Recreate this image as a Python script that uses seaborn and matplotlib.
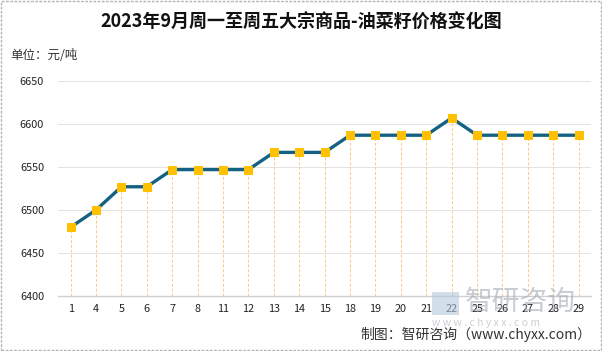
import numpy as np
import pandas as pd
import matplotlib
matplotlib.use("Agg")
import matplotlib.pyplot as plt
import seaborn as sns
from matplotlib.patches import Rectangle

# ==========================================
# Data
# ==========================================
days = ["1", "4", "5", "6", "7", "8", "11", "12", "13", "14", "15",
        "18", "19", "20", "21", "22", "25", "26", "27", "28", "29"]
prices = [6480, 6500, 6527, 6527, 6547, 6547, 6547, 6547, 6567, 6567, 6567,
          6587, 6587, 6587, 6587, 6607, 6587, 6587, 6587, 6587, 6587]
y_ticks = [6400, 6450, 6500, 6550, 6600, 6650]

df = pd.DataFrame({"day": days, "price": prices})
df["pos"] = np.arange(len(df))

# ==========================================
# Style
# ==========================================
sns.set_style("white")
plt.rcParams["font.family"] = ["Noto Sans CJK SC", "DejaVu Sans"]

line_color = "#136283"
marker_color = "#FFC000"

fig = plt.figure(figsize=(6.02, 3.51), dpi=100)
ax = fig.add_axes([0.0963, 0.157, 0.886, 0.612])

# watermark (behind the chart)
fig.text(0.772, 0.140, "智研咨询", ha="left", va="center", fontsize=20,
         color="#A3ABB5", alpha=0.6, zorder=0)
fig.text(0.717, 0.080, "w w w . c h y x x . c o m", ha="left", va="center",
         fontsize=7.5, color="#A3ABB5", alpha=0.55, zorder=0)
fig.patches.append(Rectangle((0.718, 0.103), 0.044, 0.065, transform=fig.transFigure,
                             facecolor="#B4C8DC", alpha=0.6, edgecolor="none", zorder=0))

# drop lines
ax.vlines(df["pos"], 6400, df["price"], colors="#F7CD85", linestyles=(0, (3, 2)),
          linewidth=0.7, zorder=1)

sns.lineplot(data=df, x="pos", y="price", ax=ax, color=line_color, linewidth=2.4,
             marker="s", markersize=5.5, markerfacecolor=marker_color,
             markeredgecolor=marker_color, zorder=3)

ax.set_xlim(-0.5, len(df) - 0.5)
ax.set_ylim(6400, 6650)
ax.set_xticks(df["pos"])
ax.set_xticklabels(days)
ax.set_yticks(y_ticks)
ax.set_xlabel("")
ax.set_ylabel("")
ax.tick_params(axis="both", labelsize=7.8, length=0, colors="#222222")
ax.tick_params(axis="x", pad=6)
ax.tick_params(axis="y", pad=10)
ax.yaxis.grid(True, color="#E3E3E3", linewidth=0.7)
ax.set_axisbelow(True)
ax.patch.set_alpha(0)
for s in ["top", "right", "left"]:
    ax.spines[s].set_visible(False)
ax.spines["bottom"].set_color("#D0D0D0")
ax.spines["bottom"].set_linewidth(1.0)

# ==========================================
# Texts
# ==========================================
fig.text(0.5, 0.937, "2023年9月周一至周五大宗商品-油菜籽价格变化图", ha="center", va="center",
         fontsize=13, fontweight="bold", color="#111111")
fig.text(0.017, 0.843, "单位：元/吨", ha="left", va="center", fontsize=9, color="#333333")
fig.text(0.982, 0.046, "制图：智研咨询（www.chyxx.com）", ha="right", va="center",
         fontsize=10, color="#333333")

# border
fig.patches.append(Rectangle((0.001, 0.002), 0.997, 0.995, transform=fig.transFigure,
                             facecolor="none", edgecolor="#B5B5B5", linewidth=1.0,
                             linestyle=(0, (2, 1))))

fig.savefig("out.png", dpi=100)
plt.close()
